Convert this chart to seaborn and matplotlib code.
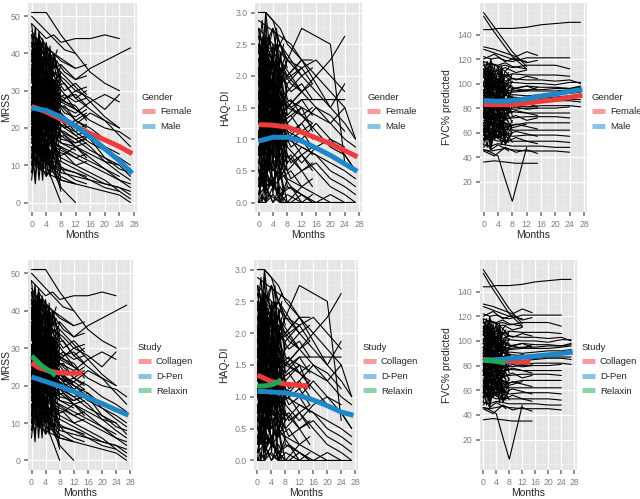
import pandas as pd
import matplotlib.pyplot as plt
from matplotlib.lines import Line2D
from matplotlib.ticker import MultipleLocator, FormatStrFormatter
import seaborn as sns

sns.set_theme(style="darkgrid", rc={
    "axes.facecolor": "#E5E5E5",
    "grid.color": "white",
    "xtick.bottom": True,
    "ytick.left": True,
    "xtick.major.size": 3,
    "ytick.major.size": 3,
    "xtick.minor.size": 0,
    "ytick.minor.size": 0,
    "xtick.color": "#7F7F7F",
    "ytick.color": "#7F7F7F",
})
plt.rcParams["font.family"] = ["Liberation Sans", "DejaVu Sans"]

# visit schedules (months) for each study
VIS_RELAXIN = [0, 1, 2, 4, 6, 7]
VIS_COLLAGEN = [0, 3, 6, 9, 12, 15]
VIS_DPEN = [0, 2, 4, 6, 8, 12, 16, 20, 24, 27]
VIS_EARLY = [0, 1, 2, 3, 4, 5, 6, 8]

# ---- MRSS trajectories ----
MRSS_RELAXIN = [
    [28, 30, 25, 27, 22, 24], [35, 38, 33, 36, 30, 31], [18, 22, 15, 20, 14, 17],
    [42, 39, 44, 40, 36, 38], [12, 15, 10, 13, 9, 11], [25, 20, 23, 18, 21, 17],
    [31, 27, 33, 29, 26, 28], [20, 24, 19, 16, 20, 15], [38, 34, 36, 31, 33, 29],
    [15, 11, 17, 12, 8, 10], [45, 41, 43, 38, 40, 36], [23, 27, 22, 25, 19, 21],
    [33, 29, 31, 35, 28, 26], [10, 14, 9, 12, 15, 11], [27, 23, 29, 24, 20, 22],
    [40, 43, 37, 39, 34, 35], [17, 20, 16, 19, 22, 18], [29, 33, 28, 31, 27, 24],
    [22, 18, 24, 20, 17, 19], [36, 32, 38, 33, 30, 32], [8, 12, 11, 7, 10, 6],
    [26, 30, 27, 23, 25, 20], [43, 40, 45, 42, 38, 41], [19, 16, 21, 14, 18, 13],
    [32, 36, 30, 34, 31, 27],
]
MRSS_COLLAGEN = [
    [30, 28, 25, 26, 22, 24], [40, 37, 35, 33, 30, 31], [20, 19, 17, 18, 15, 16],
    [25, 27, 22, 20, 21, 19], [35, 32, 33, 29, 27, 28], [15, 14, 12, 13, 10, 11],
    [45, 42, 40, 38, 36, 37], [28, 25, 26, 23, 20, None], [22, 24, 20, 19, 17, 18],
    [38, 36, 34, 30, 32, 29], [18, 15, 16, 14, 12, 13], [33, 35, 30, 28, 29, 26],
    [27, 23, 24, 21, 22, 20], [12, 10, 11, 9, 8, 7], [42, 38, 39, 35, 33, 34],
    [24, 21, 23, 20, 18, 19], [31, 30, 27, 29, 25, 23], [16, 18, 14, 13, 15, 12],
    [36, 33, 31, 32, 28, 30], [21, 20, 22, 18, 16, 17], [50, 47, 44, 41, 40, None],
    [29, 26, 28, 24, 23, 25], [10, 9, 12, 8, 6, 5], [34, 31, 29, 27, 26, 22],
    [26, 28, 25, 22, 19, 21],
]
MRSS_DPEN = [
    [51, 51, 51, 48, 45, 40, 35, 32, 30], [48, 46, 44, 45, 43, 44, 44, 45, 44],
    [40, 42, 38, 36, 37, 33, 36, 38, 40, 41.5], [35, 33, 30, 28, 26, 22, 20, 17, 15, 13],
    [30, 28, 29, 25, 24, 20, 18, 14, 12, 10], [25, 24, 22, 21, 19, 17, 14, 12, 9, 8],
    [20, 18, 17, 15, 14, 12, 10, 8, 6, 5], [15, 14, 12, 10, 8, 7, 6, 5, 4, 3],
    [38, 36, 33, 30, 28, 25, 22, 20, 19, 17], [22, 20, 21, 18, 16, 15, 13, 11, 10],
    [28, 26, 25, 27, 23, 21, 24, 22, 20], [33, 30, 32, 29, 27, 30, 28, 25, 29],
    [18, 16, 15, 13, 12, 10, 8, 6, 3], [26, 25, 23, 20, 18, 15, 12, 9, 6, 4],
    [12, 10, 9, 8, 6, 5, 4, 3, 2, 0], [43, 40, 38, 35, 33, 28, 25, 22, 18, 15],
    [24, 22, 20, 19, 17, 16, 18, 15, 13], [31, 29, 27, 24, 22, 18, 15, 11, 8, 6],
    [17, 15, 13, 12, 11, 9, 7, 5, 4, 2], [36, 34, 31, 29, 26, 24, 27, 29, 27],
    [21, 19, 18, 16, 15, 13, 11, 9, 7], [27, 24, 26, 22, 21, 19, 16, 14, 11, 9],
    [45, 43, 41, 37, 35, 31, 27, 23, 20], [14, 13, 11, 10, 9, 8, 6, 4, 3, 1],
    [29, 27, 25, 23, 22, 20, 17, 12, 10, 7],
    [20, 15, 10, 5, 0], [25, 20, 14, 8, 4, 0], [33, 30, 28, 25, 23, 20],
    [40, 37, 35, 32, 30], [16, 14, 11, 9, 7, 5], [37, 35, 32, 30, 27, 25],
    [23, 21, 19, 18, 16, 14], [11, 9, 8, 7, 6, 5], [46, 43, 42, 40, 38, 36],
    [30, 27, 25, 24, 22, 21],
]
MRSS_EARLY = [
    [30, 18, 34, 22, 38, 20, 28, 16], [12, 26, 15, 30, 10, 24, 14, 20],
    [40, 28, 44, 30, 36, 25, 38, 27], [22, 35, 19, 33, 24, 37, 20, 30],
    [8, 20, 6, 18, 12, 22, 9, 15], [45, 32, 42, 29, 40, 33, 35, 26],
    [18, 30, 24, 12, 28, 16, 25, 11], [35, 22, 39, 26, 31, 19, 33, 24],
    [26, 40, 21, 37, 27, 42, 23, 34], [15, 5, 19, 9, 17, 7, 13, 4],
    [38, 47, 33, 44, 36, 41, 30, 37], [20, 10, 25, 14, 22, 12, 18, 8],
    [33, 41, 28, 38, 24, 35, 29, 31], [10, 22, 16, 6, 20, 11, 17, 6],
    [43, 34, 46, 36, 41, 30, 39, 32], [24, 14, 28, 18, 31, 21, 26, 17],
    [29, 37, 23, 33, 19, 30, 22, 27], [16, 26, 11, 23, 18, 28, 13, 21],
    [37, 25, 40, 27, 34, 23, 32, 19], [21, 31, 17, 29, 13, 25, 16, 12],
    [48, 39, 45, 37, 43, 35, 40, 33], [13, 7, 17, 11, 20, 9, 14, 10],
    [31, 21, 36, 24, 33, 27, 24, 18], [27, 36, 30, 20, 34, 25, 31, 22],
    [6, 16, 9, 19, 7, 14, 10, 3], [41, 31, 37, 43, 32, 39, 28, 35],
    [19, 29, 14, 26, 21, 33, 17, 23], [34, 44, 31, 39, 27, 36, 30, 20],
]

# ---- HAQ-DI trajectories ----
HAQ_RELAXIN = [
    [1.5, 1.75, 1.375, 1.625, 1.25, 1.375], [2.0, 1.75, 2.125, 1.875, 1.625, 1.75],
    [0.75, 1.0, 0.625, 0.875, 0.5, 0.75], [2.5, 2.25, 2.375, 2.125, 2.0, 2.25],
    [0.25, 0.5, 0.125, 0.375, 0.0, 0.25], [1.125, 0.875, 1.25, 1.0, 0.75, 0.875],
    [1.875, 2.125, 1.75, 1.5, 1.625, 1.375], [0.5, 0.25, 0.625, 0.375, 0.5, 0.125],
    [2.25, 2.5, 2.0, 2.25, 1.875, 2.0], [1.0, 1.25, 0.875, 1.125, 1.0, 0.75],
    [3.0, 3.0, 3.0, 2.875, 2.5, 2.625], [1.375, 1.125, 1.5, 1.25, 1.375, 1.125],
    [0.0, 0.125, 0.0, 0.25, 0.125, 0.0], [1.625, 1.875, 1.5, 1.75, 1.375, 1.5],
    [0.875, 0.625, 1.0, 0.75, 0.625, 0.5], [2.125, 1.875, 2.25, 2.0, 2.125, 1.75],
    [0.375, 0.625, 0.5, 0.25, 0.375, 0.5], [1.25, 1.5, 1.125, 1.375, 1.625, 1.5],
    [2.75, 2.5, 2.625, 2.375, 2.25, 2.5], [0.625, 0.875, 0.75, 0.5, 0.875, 0.625],
    [1.75, 1.5, 1.875, 1.625, 1.5, 1.25], [0.125, 0.375, 0.25, 0.0, 0.25, 0.125],
    [2.375, 2.125, 2.5, 2.25, 2.0, 2.125], [1.0, 0.75, 1.125, 0.875, 1.25, 1.0],
    [1.875, 2.0, 1.625, 1.875, 1.75, 1.625],
]
HAQ_COLLAGEN = [
    [1.5, 1.375, 1.25, 1.375, 1.125, 1.25], [2.25, 2.0, 2.125, 1.875, 1.75, 1.875],
    [0.75, 0.875, 0.625, 0.75, 0.5, 0.625], [1.875, 1.625, 1.75, 1.5, 1.625, 1.375],
    [0.25, 0.375, 0.125, 0.25, 0.0, 0.125], [2.625, 2.375, 2.5, 2.25, 2.0, 2.125],
    [1.125, 1.0, 1.25, 0.875, 1.0, 0.75], [0.5, 0.625, 0.375, 0.5, 0.25, 0.375],
    [2.0, 2.25, 1.875, 2.0, 1.75, None], [1.375, 1.25, 1.5, 1.125, 1.25, 1.0],
    [0.0, 0.125, 0.0, 0.0, 0.125, 0.0], [1.625, 1.75, 1.5, 1.625, 1.375, 1.5],
    [2.875, 2.75, 2.625, 2.5, 2.25, 2.25], [0.875, 0.75, 1.0, 0.625, 0.75, 0.5],
    [1.25, 1.125, 1.375, 1.0, 1.125, 0.875], [2.375, 2.125, 2.25, 2.0, 2.125, 1.875],
    [0.625, 0.5, 0.75, 0.375, 0.5, 0.25], [1.75, 1.875, 1.625, 1.5, 1.375, 1.25],
    [1.0, 1.25, 0.875, 1.0, 0.75, 0.875], [2.125, 1.875, 2.0, 1.75, 1.875, 1.625],
    [0.375, 0.25, 0.5, 0.25, 0.125, 0.0], [1.5, 1.625, 1.25, 1.375, 1.5, 1.125],
]
HAQ_DPEN = [
    [3.0, 3.0, 2.875, 2.75, 2.5, 2.25, 2.0, 1.75, 1.5],
    [2.25, 2.5, 2.375, 2.5, 2.25, 2.75, 2.625, 2.5, 0.625],
    [1.5, 1.375, 1.25, 1.5, 1.375, 1.625, 1.625, 1.625, 1.625],
    [1.125, 1.0, 1.125, 0.875, 1.0, 0.875, 0.75, 0.625, 0.5, 0.375],
    [0.0, 0.0, 0.125, 0.0, 0.0, 0.0, 0.0, 0.0, 0.0, 0.0],
    [2.0, 1.875, 1.75, 1.875, 1.625, 1.5, 1.375, 1.25, 1.0, 0.875],
    [0.75, 0.625, 0.5, 0.625, 0.375, 0.25, 0.125, 0.0, 0.0],
    [1.75, 1.625, 1.875, 1.5, 1.75, 2.0, 1.75, 1.5, 1.875],
    [0.5, 0.625, 0.375, 0.5, 0.75, 0.5, 0.625, 0.375, 0.25, 0.125],
    [2.5, 2.375, 2.25, 2.125, 2.0, 1.75, 2.0, 2.25, 2.625],
    [1.25, 1.125, 1.0, 1.25, 1.125, 1.0, 1.25, 1.0, 0.75, 0.5],
    [0.875, 1.0, 0.75, 0.625, 0.5, 0.75, 0.5, 0.25, 0.125, 0.0],
    [1.875, 2.0, 2.125, 1.875, 2.0, 2.25, 1.875, 1.5, 1.25, 1.0],
    [0.25, 0.375, 0.25, 0.125, 0.25, 0.125, 0.0, 0.125, 0.0],
    [1.375, 1.5, 1.25, 1.125, 1.0, 1.25, 1.5, 1.375, 1.125],
    [2.125, 2.0, 1.875, 1.75, 1.5, 1.375, 1.125, 0.875, 0.75, 0.5],
    [1.0, 0.875, 1.0, 1.125, 0.875, 0.625, 0.875, 1.0, 0.875],
    [0.625, 0.5, 0.625, 0.75, 0.625, 0.875, 0.75, 0.5, 0.375, 0.25],
    [1.625, 1.75, 1.5, 1.375, 1.5, 1.75, 1.5, 1.25, 1.5, 1.0],
    [2.75, 2.625, 2.5, 2.375, 2.25, 2.125, 2.25, 2.0, 1.75],
    [2.0, 1.75, 2.25, 2.0, 1.875, 2.125], [0.5, 0.25, 0.375, 0.0, 0.125, 0.0],
    [1.25, 1.5, 1.375, 1.625, 1.5, 1.75], [2.625, 2.5, 2.75, 2.5, 2.25, 2.0],
    [0.875, 0.75, 1.0, 0.875, 0.625], [1.75, 1.5, 1.625, 1.375, 1.25, 1.5],
    [0.125, 0.25, 0.0, 0.125, 0.0, 0.25], [2.375, 2.25, 2.125, 2.25, 2.0, 2.25],
]
HAQ_EARLY = [
    [1.5, 0.75, 1.875, 1.0, 2.125, 1.25, 1.625, 0.875], [0.5, 1.25, 0.25, 1.0, 0.625, 1.5, 0.375, 1.125],
    [2.25, 1.5, 2.5, 1.75, 2.375, 1.625, 2.0, 1.375], [1.0, 1.875, 0.75, 1.625, 1.25, 2.0, 0.875, 1.5],
    [0.0, 0.625, 0.125, 0.875, 0.25, 0.5, 0.0, 0.375], [2.75, 2.0, 2.625, 1.875, 2.5, 2.125, 2.25, 1.75],
    [1.25, 2.125, 1.5, 0.625, 1.75, 1.0, 1.375, 0.5], [1.875, 1.125, 2.25, 1.375, 1.625, 0.875, 1.75, 1.25],
    [0.75, 1.5, 0.5, 1.375, 0.875, 1.75, 0.625, 1.0], [2.0, 2.625, 1.75, 2.375, 2.125, 2.75, 1.875, 2.25],
    [0.375, 0.0, 0.625, 0.25, 0.75, 0.125, 0.5, 0.0], [1.625, 2.375, 1.25, 2.0, 1.5, 2.25, 1.125, 1.875],
    [2.5, 1.75, 2.875, 2.0, 2.25, 1.5, 2.375, 1.625], [0.875, 0.25, 1.125, 0.5, 1.375, 0.625, 1.0, 0.25],
    [1.375, 2.0, 1.0, 1.75, 1.125, 1.875, 1.5, 1.0], [2.125, 1.25, 2.375, 1.5, 2.0, 1.375, 1.875, 1.125],
    [0.625, 1.125, 0.375, 1.25, 0.75, 1.0, 0.5, 0.75], [1.75, 1.0, 2.0, 1.25, 1.875, 1.125, 1.625, 0.75],
    [0.25, 0.875, 0.5, 1.125, 0.125, 0.75, 0.375, 0.625], [2.375, 2.875, 2.125, 2.625, 2.25, 2.5, 2.0, 2.25],
    [1.125, 0.5, 1.375, 0.75, 1.5, 0.875, 1.25, 0.625], [1.5, 2.25, 1.625, 1.125, 1.875, 1.25, 2.0, 1.375],
    [0.125, 0.5, 0.0, 0.375, 0.25, 0.625, 0.125, 0.0], [2.625, 2.25, 3.0, 2.5, 2.75, 2.375, 2.5, 2.125],
    [1.0, 1.625, 1.25, 0.5, 1.5, 0.75, 1.125, 0.625], [1.875, 2.5, 1.5, 2.25, 1.625, 2.375, 1.75, 1.5],
]

# ---- FVC% predicted trajectories ----
FVC_RELAXIN = [
    [85, 88, 83, 86, 82, 84], [95, 92, 97, 94, 91, 93], [72, 75, 70, 73, 71, 69],
    [105, 102, 107, 103, 100, 104], [62, 65, 60, 64, 61, 58], [90, 87, 92, 88, 86, 89],
    [78, 81, 76, 79, 82, 77], [110, 113, 108, 111, 106, 109], [55, 58, 53, 57, 54, 52],
    [98, 95, 100, 96, 94, 97], [68, 71, 66, 70, 67, 65], [82, 79, 84, 80, 78, 81],
    [115, 112, 117, 114, 110, 113], [48, 51, 46, 50, 47, 45], [88, 91, 86, 89, 85, 87],
    [75, 72, 77, 74, 76, 73], [102, 99, 104, 100, 97, 101], [65, 68, 63, 66, 62, 64],
    [92, 95, 90, 93, 96, 91], [58, 55, 60, 56, 59, 54],
]
FVC_COLLAGEN = [
    [80, 82, 78, 81, 79, 80], [100, 97, 99, 96, 98, 95], [66, 68, 64, 67, 65, 63],
    [120, 124, 118, 121, 117, 119], [90, 88, 91, 87, 89, 86], [55, 57, 52, 56, 53, 51],
    [36, 37, 36, 35, 35, 35], [108, 105, 107, 103, 106, 104], [73, 75, 71, 74, 70, 72],
    [85, 83, 86, 82, 84, 81], [45, 41, 48, 44, 46, 43], [95, 98, 93, 96, 94, 97],
    [130, 128, 125, 122, 126, 123], [60, 62, 58, 61, 59, 57], [112, 110, 113, 109, 111],
    [77, 79, 75, 78, 76, 74],
]
FVC_DPEN = [
    [144, 144, 145, 145, 145, 146, 148, 149, 150, 150],
    [158, 150, 142, 134, 126, 114], [155, 146, 138, 130, 122, 112],
    [122, 120, 121, 119, 118, 121, 121, 121, 121], [115, 116, 114, 115, 113, 115, 115, 115, 112],
    [105, 103, 104, 102, 104, 103, 103, 102, 103, 100], [98, 97, 99, 98, 96, 98, 97, 97, 96, 98],
    [92, 93, 91, 92, 93, 94, 94, 94, 95, 96], [88, 86, 88, 87, 89, 88, 88, 89, 90],
    [84, 85, 83, 84, 82, 84, 85, 86, 86, 85], [80, 79, 81, 80, 79, 80, 80, 80, 81],
    [76, 77, 75, 76, 77, 76, 76, 76, 76], [72, 71, 73, 71, 72, 73, 73, 73, 72],
    [68, 69, 67, 68, 66, 68, 68, 68, 68], [63, 62, 64, 63, 62, 62, 62, 62, 62],
    [58, 57, 58, 59, 57, 58, 58, 58, 57], [54, 55, 53, 54, 53, 53, 53, 53, 52],
    [50, 49, 51, 50, 49, 49, 49, 48, 48], [46, 45, 46, 47, 46, 45, 45, 45, 44],
    [101, 100, 102, 100, 101, 100, 100, 99, 101, 101], [95, 96, 94, 95, 94, 95, 95, 96, 96, 97],
    [90, 91, 89, 90, 91, 90, 91, 92, 92, 93], [86, 87, 85, 86, 85, 87, 86, 87, 87, 87],
    [109, 107, 108, 106, 108, 107, 107, 107, 106], [82, 81, 83, 81, 82, 81, 82, 82, 82, 81],
    [46, 44, 41, 22, 4, 48], [128, 126, 124, 122, 120, 118],
    [118, 116, 115, 117, 114, 112], [70, 66, 72, 68, 64, 67],
]
FVC_EARLY = [
    [85, 70, 92, 76, 98, 80, 88, 74], [60, 78, 55, 75, 64, 82, 58, 70],
    [100, 86, 108, 90, 104, 84, 96, 88], [75, 95, 70, 90, 78, 99, 72, 86],
    [50, 65, 46, 62, 55, 68, 52, 60], [112, 98, 116, 100, 110, 95, 106, 101],
    [90, 105, 84, 102, 88, 108, 82, 96], [68, 55, 74, 58, 72, 56, 66, 60],
    [95, 80, 102, 84, 97, 78, 93, 82], [80, 96, 76, 93, 82, 98, 78, 90],
    [105, 118, 100, 114, 98, 112, 96, 108], [58, 72, 52, 70, 60, 76, 55, 66],
    [88, 74, 94, 78, 90, 72, 86, 76], [72, 88, 66, 85, 74, 90, 70, 82],
    [118, 104, 120, 106, 114, 100, 110, 104], [64, 48, 70, 54, 66, 50, 62, 52],
    [98, 112, 92, 108, 96, 114, 90, 102], [82, 66, 88, 70, 84, 64, 80, 68],
    [54, 66, 48, 63, 57, 70, 50, 60], [92, 100, 86, 104, 90, 98, 84, 94],
    [76, 60, 82, 64, 78, 58, 74, 62], [108, 94, 112, 96, 104, 92, 100, 98],
]

# ---- smoothed group curves ----
SMOOTH_MONTHS = [0, 4, 8, 12, 16, 20, 24, 27.5]
MRSS_FEMALE = [25.8, 24.3, 22.4, 20.5, 18.5, 16.8, 15.0, 13.1]
MRSS_MALE = [25.4, 24.7, 23.0, 20.5, 17.7, 14.4, 11.2, 7.8]
HAQ_FEMALE = [1.23, 1.22, 1.19, 1.11, 1.02, 0.93, 0.82, 0.72]
HAQ_MALE = [0.97, 1.03, 1.03, 0.97, 0.86, 0.745, 0.61, 0.49]
FVC_FEMALE = [82.9, 82.7, 82.9, 84.0, 85.6, 86.9, 88.8, 90.4]
FVC_MALE = [86.1, 85.6, 86.1, 87.7, 89.9, 91.5, 93.6, 95.2]

COLLAGEN_MONTHS = [0, 2, 4, 6, 8, 10, 12, 14.5]
RELAXIN_MONTHS = [0, 1, 2, 3, 4, 5, 6, 6.8]
MRSS_COLLAGEN_FIT = [26.1, 24.8, 24.2, 23.7, 23.4, 23.3, 23.3, 23.4]
MRSS_RELAXIN_FIT = [27.9, 27.0, 26.1, 25.2, 24.6, 23.9, 23.4, 22.6]
MRSS_DPEN_FIT = [22.3, 21.1, 19.8, 18.4, 16.8, 15.2, 13.5, 12.1]
HAQ_COLLAGEN_FIT = [1.34, 1.29, 1.24, 1.22, 1.20, 1.19, 1.18, 1.17]
HAQ_RELAXIN_FIT = [1.17, 1.17, 1.17, 1.18, 1.19, 1.21, 1.24, 1.27]
HAQ_DPEN_FIT = [1.087, 1.076, 1.06, 1.02, 0.95, 0.86, 0.76, 0.71]
FVC_COLLAGEN_FIT = [84.8, 84.4, 84.0, 83.7, 83.5, 83.2, 82.9, 82.9]
FVC_RELAXIN_FIT = [84.8, 84.4, 84.0, 83.7, 83.5, 83.0, 82.5, 82.1]
FVC_DPEN_FIT = [84.3, 84.8, 85.6, 86.7, 87.8, 88.8, 89.9, 91.0]

GENDER_COLORS = {"Female": "#EE3B3B", "Male": "#1F87C8"}
STUDY_COLORS = {"Collagen": "#EE3B3B", "D-Pen": "#1F87C8", "Relaxin": "#22A656"}


def long_frame(groups):
    rows = []
    pid = 0
    for visits, table in groups:
        for traj in table:
            for m, v in zip(visits, traj):
                if v is not None:
                    rows.append((pid, m, v))
            pid += 1
    return pd.DataFrame(rows, columns=["id", "month", "value"])


def fit_frame(curves):
    rows = []
    for name, months, vals in curves:
        rows += [(name, m, v) for m, v in zip(months, vals)]
    return pd.DataFrame(rows, columns=["group", "month", "value"])


traj = {
    "MRSS": long_frame([(VIS_RELAXIN, MRSS_RELAXIN), (VIS_COLLAGEN, MRSS_COLLAGEN),
                        (VIS_DPEN, MRSS_DPEN), (VIS_EARLY, MRSS_EARLY)]),
    "HAQ-DI": long_frame([(VIS_RELAXIN, HAQ_RELAXIN), (VIS_COLLAGEN, HAQ_COLLAGEN),
                          (VIS_DPEN, HAQ_DPEN), (VIS_EARLY, HAQ_EARLY)]),
    "FVC% predicted": long_frame([(VIS_RELAXIN, FVC_RELAXIN), (VIS_COLLAGEN, FVC_COLLAGEN),
                                  (VIS_DPEN, FVC_DPEN), (VIS_EARLY, FVC_EARLY)]),
}

gender_fits = {
    "MRSS": fit_frame([("Female", SMOOTH_MONTHS, MRSS_FEMALE), ("Male", SMOOTH_MONTHS, MRSS_MALE)]),
    "HAQ-DI": fit_frame([("Female", SMOOTH_MONTHS, HAQ_FEMALE), ("Male", SMOOTH_MONTHS, HAQ_MALE)]),
    "FVC% predicted": fit_frame([("Female", SMOOTH_MONTHS, FVC_FEMALE), ("Male", SMOOTH_MONTHS, FVC_MALE)]),
}
study_fits = {
    "MRSS": fit_frame([("Collagen", COLLAGEN_MONTHS, MRSS_COLLAGEN_FIT),
                       ("D-Pen", SMOOTH_MONTHS, MRSS_DPEN_FIT),
                       ("Relaxin", RELAXIN_MONTHS, MRSS_RELAXIN_FIT)]),
    "HAQ-DI": fit_frame([("Collagen", COLLAGEN_MONTHS, HAQ_COLLAGEN_FIT),
                         ("D-Pen", SMOOTH_MONTHS, HAQ_DPEN_FIT),
                         ("Relaxin", RELAXIN_MONTHS, HAQ_RELAXIN_FIT)]),
    "FVC% predicted": fit_frame([("Collagen", COLLAGEN_MONTHS, FVC_COLLAGEN_FIT),
                                 ("D-Pen", SMOOTH_MONTHS, FVC_DPEN_FIT),
                                 ("Relaxin", RELAXIN_MONTHS, FVC_RELAXIN_FIT)]),
}

# y-axis setup per outcome: limits, ticks, minor step, label format
Y_SETUP = {
    "MRSS": ((-2.55, 53.55), [0, 10, 20, 30, 40, 50], 5, "%d"),
    "HAQ-DI": ((-0.15, 3.15), [0, 0.5, 1.0, 1.5, 2.0, 2.5, 3.0], 0.25, "%.1f"),
    "FVC% predicted": ((-4.75, 165.75), [20, 40, 60, 80, 100, 120, 140], 10, "%d"),
}

# panel boxes in pixels: left, top, right, bottom; plus y-label x position
W, H = 640, 499
BOXES = [
    [(28, 3, 137, 212), (255, 3, 362, 212), (480, 3, 587, 212)],
    [(28, 260, 133, 470), (254, 260, 358, 470), (480, 260, 577, 470)],
]
YLABEL_X = [[11, 230, 452], [11, 229, 452]]

fig = plt.figure(figsize=(6.4, 4.99), dpi=100)

for row, (fits, title, colors) in enumerate([(gender_fits, "Gender", GENDER_COLORS),
                                               (study_fits, "Study", STUDY_COLORS)]):
    for col, outcome in enumerate(["MRSS", "HAQ-DI", "FVC% predicted"]):
        l, t, r, b = BOXES[row][col]
        ax = fig.add_axes([l / W, 1 - b / H, (r - l) / W, (b - t) / H])

        sns.lineplot(data=traj[outcome], x="month", y="value", units="id", estimator=None,
                     color="black", lw=0.8, ax=ax, legend=False)
        sns.lineplot(data=fits[outcome], x="month", y="value", hue="group",
                     hue_order=list(colors), palette=colors, lw=3.6, ax=ax, legend=False,
                     solid_capstyle="butt")

        ylim, yticks, yminor, fmt = Y_SETUP[outcome]
        ax.set_xlim(-1.0, 28.8)
        ax.set_ylim(*ylim)
        ax.set_xticks(range(0, 29, 4))
        ax.xaxis.set_minor_locator(MultipleLocator(2))
        ax.set_yticks(yticks)
        ax.yaxis.set_major_formatter(FormatStrFormatter(fmt))
        ax.yaxis.set_minor_locator(MultipleLocator(yminor))
        ax.grid(which="major", color="white", lw=0.9)
        ax.grid(which="minor", color="#F2F2F2", lw=0.4)
        ax.tick_params(labelsize=6.3, pad=2.5)
        ax.set_xlabel("Months", fontsize=7.5, labelpad=1)
        ax.set_ylabel(outcome, fontsize=7.5)
        ax.yaxis.set_label_coords((YLABEL_X[row][col] - l) / (r - l), 0.5)
        for s in ax.spines.values():
            s.set_visible(False)

        handles = [Line2D([], [], color=c, lw=3.6, alpha=0.5, solid_capstyle="butt")
                   for c in colors.values()]
        leg = ax.legend(handles, list(colors), title=title, loc="center left",
                        bbox_to_anchor=(1 + 5 / (r - l), 0.48), frameon=False, fontsize=6.8,
                        title_fontsize=6.8, handlelength=1.4, handletextpad=0.5,
                        labelspacing=0.6, borderaxespad=0, borderpad=0)
        leg._legend_box.align = "left"

fig.savefig("out.png", dpi=100)
